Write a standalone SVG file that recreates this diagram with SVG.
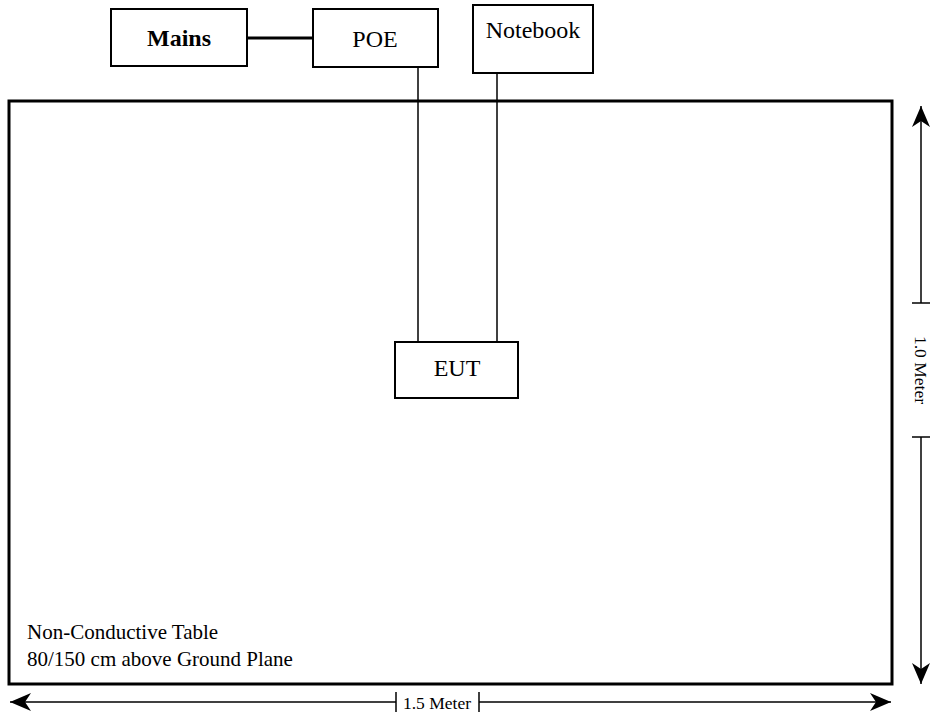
<svg xmlns="http://www.w3.org/2000/svg" width="934" height="718" viewBox="0 0 934 718">
<style>
.box{fill:#fff;stroke:#000;stroke-width:2}
text{font-family:'Liberation Serif',Tinos,'Times New Roman',Times,'DejaVu Serif',serif;fill:#000}
.lbl{font-size:24px;text-anchor:middle}
.b{font-weight:bold}
.txt{font-size:21px}
.dim{font-size:17.5px;text-anchor:middle}
.ln{stroke:#000;stroke-width:1.5;fill:none}
</style>
<defs>
<marker id="ah" markerUnits="userSpaceOnUse" markerWidth="26" markerHeight="24" viewBox="-24 -12 26 24" refX="0" refY="0" orient="auto">
<path d="M0,0 L-21,-9 L-15,0 L-21,9 Z" fill="#000"/>
</marker>
</defs>
<g id="table">
<rect x="9" y="101" width="883" height="583" fill="#fff" stroke="#000" stroke-width="3"/>
<text class="txt" x="27" y="639">Non-Conductive Table</text>
<text class="txt" x="27" y="666">80/150 cm above Ground Plane</text>
</g>
<g id="connectors">
<line x1="247" y1="38" x2="313" y2="38" stroke="#000" stroke-width="3"/>
<line class="ln" x1="418" y1="67" x2="418" y2="342"/>
<line class="ln" x1="497" y1="73" x2="497" y2="342"/>
</g>
<g id="mains">
<rect class="box" x="111" y="9" width="136" height="57"/>
<text class="lbl b" x="179" y="46">Mains</text>
</g>
<g id="poe">
<rect class="box" x="313" y="9" width="125" height="58"/>
<text class="lbl" x="375" y="47">POE</text>
</g>
<g id="notebook">
<rect class="box" x="473" y="5" width="120" height="68"/>
<text class="lbl" x="533" y="38">Notebook</text>
</g>
<g id="eut">
<rect class="box" x="395" y="342" width="123" height="56"/>
<text class="lbl" x="457" y="376">EUT</text>
</g>
<g id="dim-width">
<line class="ln" x1="396" y1="702" x2="10" y2="702" marker-end="url(#ah)"/>
<line class="ln" x1="396" y1="692" x2="396" y2="712"/>
<text class="dim" x="437" y="709">1.5 Meter</text>
<line class="ln" x1="479" y1="702" x2="891" y2="702" marker-end="url(#ah)"/>
<line class="ln" x1="479" y1="692" x2="479" y2="712"/>
</g>
<g id="dim-height">
<line class="ln" x1="921" y1="303" x2="921" y2="106" marker-end="url(#ah)"/>
<line class="ln" x1="912" y1="303" x2="930" y2="303"/>
<text class="dim" x="915" y="370" transform="rotate(90 915 370)">1.0 Meter</text>
<line class="ln" x1="921" y1="437" x2="921" y2="684" marker-end="url(#ah)"/>
<line class="ln" x1="912" y1="437" x2="930" y2="437"/>
</g>
</svg>
